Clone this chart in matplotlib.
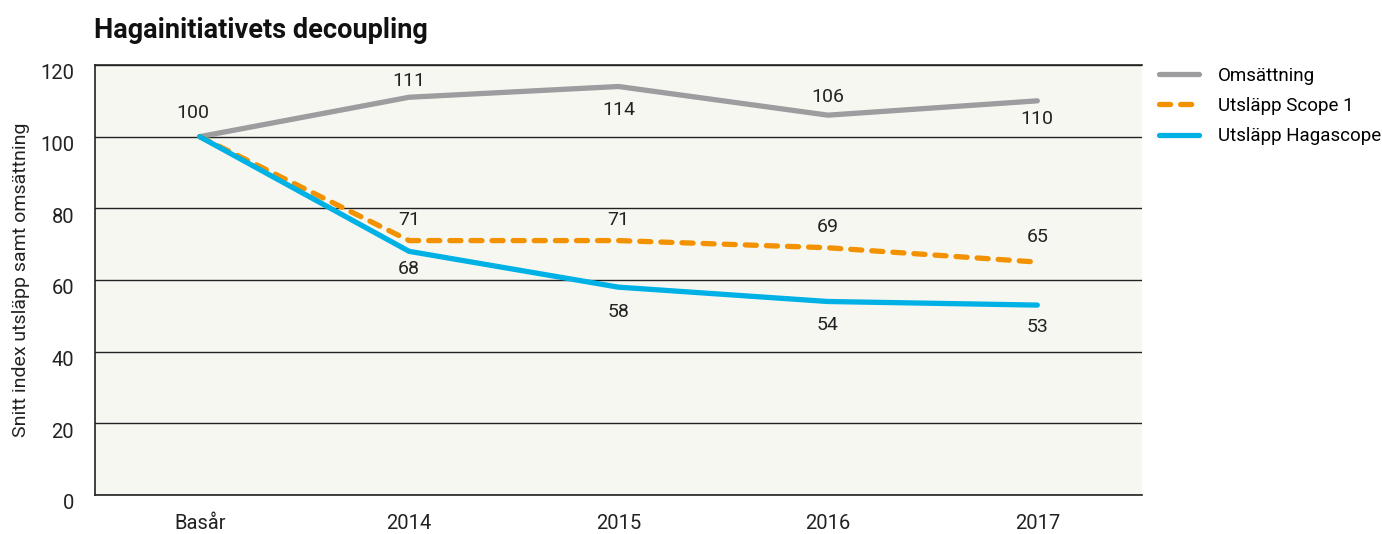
import numpy as np
import matplotlib
matplotlib.use('Agg')
from matplotlib import pyplot as plt
from matplotlib.transforms import ScaledTranslation

# data
categories = ['Basår', '2014', '2015', '2016', '2017']
omsattning = [100, 111, 114, 106, 110]
scope1 = [100, 71, 71, 69, 65]
hagascope = [100, 68, 58, 54, 53]

plt.rcParams['font.family'] = ['Roboto', 'DejaVu Sans']

fig = plt.figure(figsize=(13.82, 5.34), dpi=100)
ax = fig.add_axes([95 / 1382, 39 / 534, 1047 / 1382, 430 / 534])
ax.set_facecolor('#f7f7f2')

x = np.arange(len(categories))
l1, = ax.plot(x, omsattning, color='#9d9d9f', lw=3.8, solid_capstyle='round')
l2, = ax.plot(x, scope1, color='#f39200', lw=3.8, ls=(0, (2.1, 1.9)), dash_capstyle='round')
l3, = ax.plot(x, hagascope, color='#00b1e6', lw=3.8, solid_capstyle='round')

# value labels (offset in points, + above / - below)
om_off = [17, 12, -17, 13, -13]
s1_off = [0, 15, 15, 15, 18]
hs_off = [0, -13, -18, -17, -16]
fs_val = 14
for i, v in enumerate(omsattning):
    dx = -5 if i == 0 else 0
    ax.annotate(str(v), (x[i], v), xytext=(dx, om_off[i]), textcoords='offset points',
                ha='center', va='center', fontsize=fs_val, color='#222222')
for i, v in enumerate(scope1):
    if i == 0:
        continue
    ax.annotate(str(v), (x[i], v), xytext=(0, s1_off[i]), textcoords='offset points',
                ha='center', va='center', fontsize=fs_val, color='#222222')
for i, v in enumerate(hagascope):
    if i == 0:
        continue
    ax.annotate(str(v), (x[i], v), xytext=(0, hs_off[i]), textcoords='offset points',
                ha='center', va='center', fontsize=fs_val, color='#222222')

ax.set_xlim(-0.5, 4.5)
ax.set_ylim(0, 120)
ax.set_xticks(x)
ax.set_xticklabels(categories, fontsize=14.5, color='#222222')
ax.set_yticks(np.arange(0, 121, 20))
ax.tick_params(axis='y', labelsize=14.5, length=0, pad=15, labelcolor='#222222')
ax.tick_params(axis='x', length=0, pad=14)
for lab in ax.get_yticklabels():
    lab.set_transform(lab.get_transform() + ScaledTranslation(0, -5 / 72, fig.dpi_scale_trans))
ax.yaxis.grid(True, color='#222222', lw=1)
ax.set_axisbelow(True)
for s in ['left', 'top', 'bottom']:
    ax.spines[s].set_color('#222222')
    ax.spines[s].set_linewidth(1.2)
ax.spines['right'].set_visible(False)

ax.set_ylabel('Snitt index utsläpp samt omsättning', fontsize=14, color='#222222')
ax.yaxis.set_label_coords(-0.062, 0.5)

fig.text(94 / 1382, 1 - 30 / 534, 'Hagainitiativets decoupling', fontsize=19.5,
         fontweight='bold', va='center', ha='left', color='#111111')

leg = ax.legend([l1, l2, l3], ['Omsättning', 'Utsläpp Scope 1', 'Utsläpp Hagascope'],
                loc='upper left', bbox_to_anchor=(1.0, 1.035), frameon=False,
                fontsize=13.5, handlelength=2.15, labelspacing=0.65, handletextpad=1.0)

fig.savefig('out.png', dpi=100)
